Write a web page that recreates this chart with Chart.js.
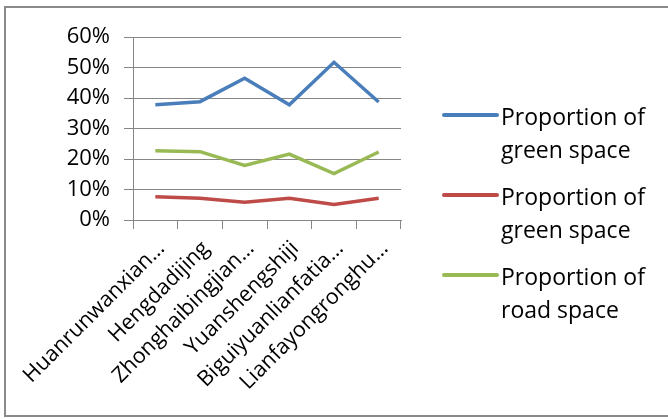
<!DOCTYPE html>
<html><head><meta charset="utf-8">
<script src="https://cdn.jsdelivr.net/npm/chart.js@4"></script>
<style>html,body{margin:0;padding:0;background:#fff;overflow:hidden}#wrap{width:668px;height:419px;position:relative}</style>
</head><body><div id="wrap"><canvas id="c" width="668" height="419"></canvas></div>
<script>
const categories = ["Huanrunwanxian…","Hengdadijing","Zhonghaibingjian…","Yuanshengshiji","Biguiyuanlianfatia…","Lianfayongronghu…"];
const greenSpaceA = [37.8, 38.8, 46.5, 37.8, 51.7, 38.7];
const greenSpaceB = [7.6, 7.1, 5.8, 7.1, 5.1, 7.1];
const roadSpace = [22.7, 22.4, 17.9, 21.6, 15.2, 22.3];
const seriesNames = ["Proportion of green space", "Proportion of green space", "Proportion of road space"];
const seriesColors = ["#4A7EBB", "#BE4B48", "#98B954"];
const yMin = 0, yMax = 60, yStep = 10;

const FONT = "'Open Sans'";
const GRID = "#868686";

const frame = {
  id: "frame",
  beforeDraw(chart) {
    const ctx = chart.ctx;
    ctx.save();
    ctx.fillStyle = "#fff";
    ctx.fillRect(0, 0, chart.width, chart.height);
    ctx.strokeStyle = "#8a8a8a";
    ctx.lineWidth = 2;
    ctx.strokeRect(5, 7, 680, 409);
    ctx.restore();
  }
};

const sideLegend = {
  id: "sideLegend",
  afterDraw(chart) {
    const ctx = chart.ctx;
    ctx.save();
    ctx.font = "23px " + FONT;
    ctx.textBaseline = "middle";
    ctx.textAlign = "left";
    chart.data.datasets.forEach((ds, i) => {
      const y = 115 + i * 80;
      ctx.strokeStyle = ds.borderColor;
      ctx.lineWidth = 4;
      ctx.lineCap = "round";
      ctx.beginPath();
      ctx.moveTo(444, y);
      ctx.lineTo(497, y);
      ctx.stroke();
      const words = ds.label.split(" ");
      const lines = [];
      let cur = "";
      words.forEach(w => {
        const t = cur ? cur + " " + w : w;
        if (ctx.measureText(t).width > 160 && cur) { lines.push(cur); cur = w; }
        else cur = t;
      });
      if (cur) lines.push(cur);
      ctx.fillStyle = "#000";
      lines.forEach((ln, k) => ctx.fillText(ln, 501, y + 3 + k * 33));
    });
    ctx.restore();
  }
};

const mk = (i, data) => ({
  label: seriesNames[i],
  data: data,
  borderColor: seriesColors[i],
  backgroundColor: seriesColors[i],
  borderWidth: 3.5,
  pointRadius: 0,
  tension: 0,
  fill: false
});

new Chart(document.getElementById("c"), {
  type: "line",
  data: {
    labels: categories,
    datasets: [mk(0, greenSpaceA), mk(1, greenSpaceB), mk(2, roadSpace)]
  },
  options: {
    responsive: false,
    animation: false,
    devicePixelRatio: 1,
    layout: { padding: { left: 0, top: 37, right: 267, bottom: 0 } },
    plugins: { legend: { display: false }, tooltip: { enabled: false } },
    scales: {
      x: {
        offset: true,
        grid: { offset: true, drawOnChartArea: false, drawTicks: true, tickLength: 9, color: GRID, lineWidth: 1 },
        border: { display: true, color: GRID, width: 1 },
        ticks: { maxRotation: 45, minRotation: 45, autoSkip: false, padding: 7, labelOffset: 6, color: "#000", font: { family: FONT, size: 21.5 } },
        afterFit(s) { s.height = 199; }
      },
      y: {
        min: yMin, max: yMax,
        ticks: { stepSize: yStep, autoSkip: false, padding: 14, color: "#000", font: { family: FONT, size: 22 }, callback: v => v + "%" },
        grid: { color: GRID, lineWidth: 1, tickLength: 9 },
        border: { display: true, color: GRID, width: 1 },
        afterFit(s) { s.width = 133; }
      }
    }
  },
  plugins: [frame, sideLegend]
});
</script></body></html>
